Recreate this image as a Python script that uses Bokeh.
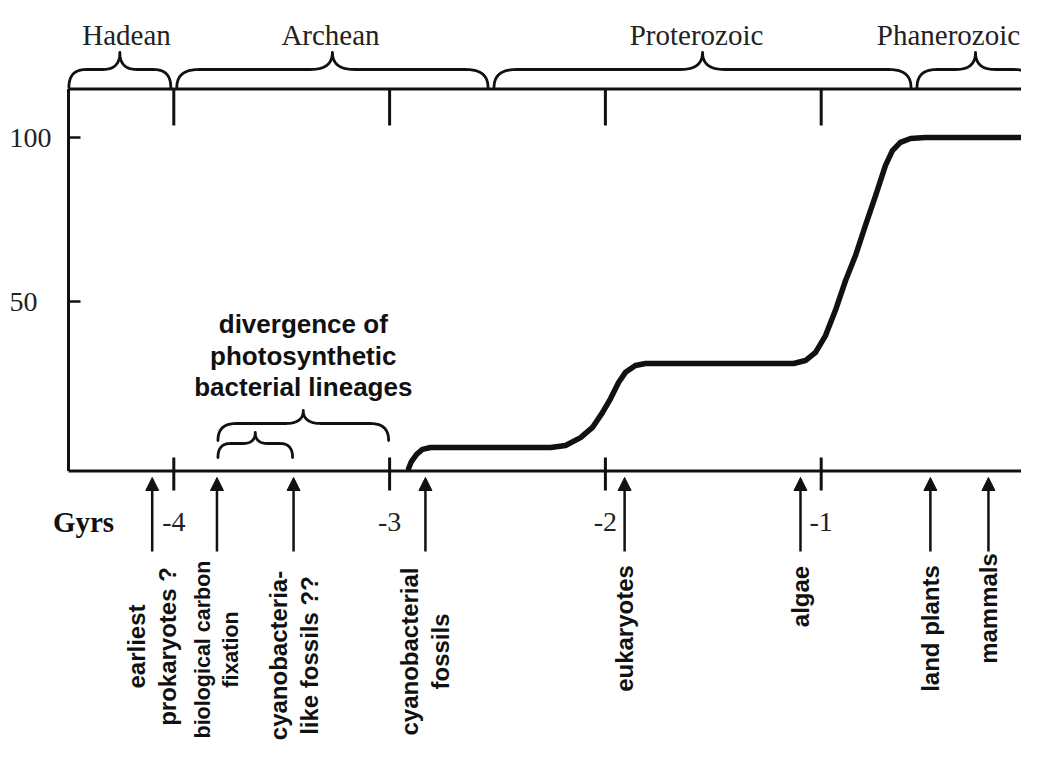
import numpy as np
from bokeh.plotting import figure
from bokeh.models import Range1d, ColumnDataSource, Arrow, NormalHead
from bokeh.core.properties import value
from bokeh.embed import file_html
from bokeh.resources import INLINE

# ---------------- data ----------------
# cumulative curve: time (Gyr, negative = ago) vs percent
curve_gyr = [-2.912, -2.899, -2.875, -2.848, -2.810, -2.254, -2.185, -2.115, -2.060,
             -2.013, -1.976, -1.939, -1.907, -1.861, -1.814, -1.128, -1.073, -1.026,
             -0.980, -0.934, -0.887, -0.841, -0.795, -0.748, -0.702, -0.670, -0.633,
             -0.586, -0.517, 0.0]
curve_pct = [-0.9, 1.2, 3.4, 4.9, 5.5, 5.5, 6.1, 8.5, 11.6,
             16.2, 20.4, 25.3, 28.4, 30.5, 31.1, 31.1, 32.0, 34.5,
             39.6, 47.3, 56.4, 64.0, 73.2, 82.3, 91.5, 96.0, 98.5,
             99.7, 100.0, 100.0]

x_ticks = [-4, -3, -2, -1]
x_tick_labels = ["-4", "-3", "-2", "-1"]
y_ticks = [100, 50]
y_tick_labels = ["100", "50"]
x_axis_title = "Gyrs"

eras = ["Hadean", "Archean", "Proterozoic", "Phanerozoic"]
era_bounds = [-4.5, -4.0, -2.53, -0.57, 0.0]

event_gyr = [-4.10, -3.80, -3.445, -2.834, -1.911, -1.096, -0.494, -0.225]
event_labels = ["earliest\nprokaryotes ?", "biological carbon\nfixation",
                "cyanobacteria-\nlike fossils ??", "cyanobacterial\nfossils",
                "eukaryotes", "algae", "land plants", "mammals"]

divergence_label = "divergence of\nphotosynthetic\nbacterial lineages"
divergence_spans = [(-3.80, -3.0), (-3.80, -3.445)]

# ---------------- layout helpers (pixel <-> data) ----------------
W, H = 1021, 741
SX, X0 = 215.8, 1036.5     # px per Gyr, px of 0 Gyr
SY, Y100 = 3.28, 137.0     # px per %, px of 100 %


def gx(X):
    return (np.asarray(X, dtype=float) - X0) / SX


def vy(Y):
    return 100.0 - (np.asarray(Y, dtype=float) - Y100) / SY


def Xg(g):
    return X0 + np.asarray(g, dtype=float) * SX


INK = "#111111"
GREY = "#222222"

p = figure(width=W, height=H, output_backend="svg", toolbar_location=None,
           x_range=Range1d(float(gx(0)), float(gx(W))),
           y_range=Range1d(float(vy(H)), float(vy(0))),
           x_axis_location=None, y_axis_location=None,
           min_border=0, min_border_left=0, min_border_right=0,
           min_border_top=0, min_border_bottom=0)
p.outline_line_color = None
p.grid.visible = False
p.background_fill_color = "white"
p.border_fill_color = "white"

# frame box
x_lo, x_hi = float(gx(68)), 0.0
y_lo, y_hi = float(vy(470.5)), float(vy(88.5))
p.multi_line(xs=[[x_lo, x_lo], [x_lo, x_hi], [x_lo, x_hi], [x_hi, x_hi]],
             ys=[[y_lo, y_hi], [y_hi, y_hi], [y_lo, y_lo], [y_lo, y_hi]],
             line_color=INK, line_width=3)

# ticks
p.multi_line(xs=[[t, t] for t in x_ticks], ys=[[y_hi, float(vy(125))] for _ in x_ticks],
             line_color=INK, line_width=3)
p.multi_line(xs=[[t, t] for t in x_ticks], ys=[[float(vy(457)), float(vy(490))] for _ in x_ticks],
             line_color=INK, line_width=3)
p.multi_line(xs=[[x_lo, float(gx(80))] for _ in y_ticks], ys=[[v, v] for v in y_ticks],
             line_color=INK, line_width=2.5)

serif = value("Liberation Serif")
sans = value("Liberation Sans")

p.text(x=x_ticks, y=[float(vy(521))] * len(x_ticks), text=x_tick_labels,
       text_align="center", text_baseline="middle", text_font=serif,
       text_font_size="28px", text_color=GREY)
p.text(x=[float(gx(9))] * len(y_ticks), y=y_ticks, text=y_tick_labels,
       text_align="left", text_baseline="middle", text_font=serif,
       text_font_size="28px", text_color=GREY)
p.text(x=[float(gx(83))], y=[float(vy(521))], text=[x_axis_title], text_align="center",
       text_baseline="middle", text_font=serif, text_font_style="bold",
       text_font_size="29px", text_color=INK)

# main curve
p.line(curve_gyr, curve_pct, line_color=INK, line_width=5.5,
       line_join="round", line_cap="round")


# braces
def brace(g0, g1, y_tip, y_body, y_peak, gap=3.0, rmax=22.0, n=24):
    x0, x1 = float(Xg(g0)) + gap, float(Xg(g1)) - gap
    xm = (x0 + x1) / 2.0
    r = min(rmax, (xm - x0) / 3.0)
    t = np.linspace(0, 1, n)

    def quad(a, b, c):
        return ((1 - t) ** 2 * a[0] + 2 * (1 - t) * t * b[0] + t ** 2 * c[0],
                (1 - t) ** 2 * a[1] + 2 * (1 - t) * t * b[1] + t ** 2 * c[1])

    parts = [quad((x0, y_tip), (x0, y_body), (x0 + r, y_body)),
             quad((xm - r, y_body), (xm, y_body), (xm, y_peak)),
             quad((xm, y_peak), (xm, y_body), (xm + r, y_body)),
             quad((x1 - r, y_body), (x1, y_body), (x1, y_tip))]
    X = np.concatenate([q[0] for q in parts])
    Y = np.concatenate([q[1] for q in parts])
    return list(gx(X)), list(vy(Y))


era_xs, era_ys = [], []
for i in range(len(eras)):
    bx, by = brace(era_bounds[i], era_bounds[i + 1], 87.0, 69.0, 52.0)
    era_xs.append(bx)
    era_ys.append(by)
p.multi_line(xs=era_xs, ys=era_ys, line_color=INK, line_width=2.8,
             line_join="round", line_cap="round")

era_label_x = [float(v) for v in gx([126, 330, 696, 948])]
p.text(x=era_label_x, y=[float(vy(34))] * len(eras), text=eras, text_align="center",
       text_baseline="alphabetic", text_font=serif, text_font_size="29px",
       text_color=GREY)

div_levels = [(440.0, 423.0, 410.0), (457.0, 443.0, 432.0)]
dxs, dys = [], []
for (g0, g1), (yt, yb, yp) in zip(divergence_spans, div_levels):
    bx, by = brace(g0, g1, yt, yb, yp, gap=1.0, rmax=18.0)
    dxs.append(bx)
    dys.append(by)
p.multi_line(xs=dxs, ys=dys, line_color=INK, line_width=2.8,
             line_join="round", line_cap="round")

p.text(x=[(divergence_spans[0][0] + divergence_spans[0][1]) / 2], y=[float(vy(355))],
       text=[divergence_label], text_align="center", text_baseline="middle",
       text_font=sans, text_font_style="bold", text_font_size="26px",
       text_line_height=1.05, text_color=INK)

# event arrows
arrow_src = ColumnDataSource(dict(x=event_gyr,
                                  y0=[float(vy(551))] * len(event_gyr),
                                  y1=[float(vy(477))] * len(event_gyr)))
p.add_layout(Arrow(source=arrow_src, x_start="x", y_start="y0", x_end="x", y_end="y1",
                   line_color=INK, line_width=2.5,
                   end=NormalHead(size=13, fill_color=INK, line_color=INK, line_width=1)))

label_center_y = [646, 649, 655, 651, 628, 596, 628, 608]
label_font_px = ["24px", "21.5px", "24px", "24px", "24px", "24px", "24px", "24px"]
label_src = ColumnDataSource(dict(x=event_gyr,
                                  y=[float(vy(c)) for c in label_center_y],
                                  text=event_labels, size=label_font_px))
p.text(x="x", y="y", text="text", source=label_src,
       angle=np.pi / 2, text_align="center", text_baseline="middle",
       text_font=sans, text_font_style="bold", text_font_size="size",
       text_line_height=1.15, text_color=INK)

open("out.html", "w").write(file_html(p, INLINE))
